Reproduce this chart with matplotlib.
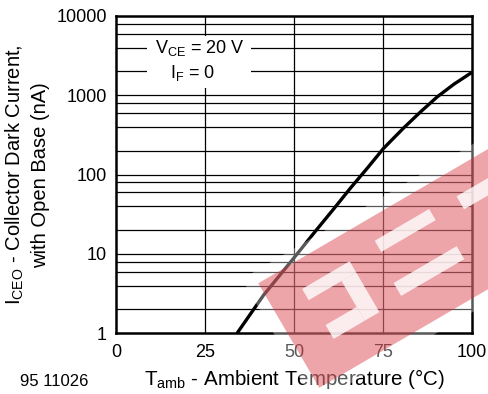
import numpy as np
import matplotlib
matplotlib.use("Agg")
import matplotlib.pyplot as plt
from matplotlib.patches import Polygon, Rectangle

plt.rcParams['font.family'] = ['Liberation Sans', 'DejaVu Sans']
plt.rcParams['mathtext.fontset'] = 'custom'
plt.rcParams['mathtext.rm'] = 'Liberation Sans'
plt.rcParams['mathtext.it'] = 'Liberation Sans:italic'
plt.rcParams['mathtext.bf'] = 'Liberation Sans:bold'

# ---- data ----
temperature = [33.9, 41.4, 49.8, 56.4, 61.1, 65.8, 70.5, 75.1, 80.8, 85.5, 90.2, 94.9, 100.0]
dark_current = [1.0, 3.04, 8.8, 20.5, 37.0, 67.6, 120, 214, 389, 617, 955, 1380, 1950]
x_ticks = [0, 25, 50, 75, 100]
y_ticks = [1, 10, 100, 1000, 10000]
y_tick_labels = ['1', '10', '100', '1000', '10000']
grid_multipliers = [2, 4, 6, 8]

W, H = 489, 394
fig = plt.figure(figsize=(W / 100, H / 100), dpi=100)
ax_l, ax_r, ax_t, ax_b = 116.5, 472.0, 16.0, 333.3
ax = fig.add_axes([ax_l / W, 1 - ax_b / H, (ax_r - ax_l) / W, (ax_b - ax_t) / H])
ax.set_yscale('log')
ax.set_xlim(0, 100)
ax.set_ylim(1, 10000)

# grid
for d in y_ticks[:-1]:
    for m in grid_multipliers:
        ax.axhline(d * m, color='black', lw=0.9, zorder=1)
    if d > 1:
        ax.axhline(d, color='black', lw=0.9, zorder=1)
for xv in x_ticks[1:-1]:
    ax.axvline(xv, color='black', lw=0.9, zorder=1)

# curve
ax.plot(temperature, dark_current, color='black', lw=2.4, zorder=4,
        solid_capstyle='butt', solid_joinstyle='round')

# conditions box
ax.add_patch(Rectangle(((147 - ax_l) / (ax_r - ax_l), 1 - (88 - ax_t) / (ax_b - ax_t)),
                       (251 - 147) / (ax_r - ax_l), (88 - 36) / (ax_b - ax_t),
                       transform=ax.transAxes, facecolor='white', edgecolor='none', zorder=2))
ax.text(23.5, 3960, r'V$_{\mathrm{CE}}$ = 20 V', ha='center', va='center', fontsize=13, zorder=3)
ax.text(21.3, 1918, r'I$_{\mathrm{F}}$ = 0', ha='center', va='center', fontsize=13, zorder=3)

# axes styling
ax.set_xticks(x_ticks)
ax.set_xticklabels([str(v) for v in x_ticks])
ax.set_yticks(y_ticks)
ax.set_yticklabels(y_tick_labels)
ax.yaxis.set_minor_locator(matplotlib.ticker.NullLocator())
ax.tick_params(axis='both', length=0, labelsize=13)
ax.tick_params(axis='y', pad=7)
ax.tick_params(axis='x', pad=8)
for s in ax.spines.values():
    s.set_linewidth(1.8)
    s.set_zorder(5)

ax.set_xlabel(r'T$_{\mathrm{amb}}$ - Ambient Temperature (°C)', fontsize=14.8, labelpad=4)
cy = 1 - (ax_t + ax_b) / 2 / H
fig.text(15 / W, cy, r'I$_{\mathrm{CEO}}$ - Collector Dark Current,', rotation=90,
         ha='center', va='center', fontsize=14.5)
fig.text(41 / W, cy, 'with Open Base (nA)', rotation=90, ha='center', va='center', fontsize=14.5)
fig.text(20 / W, 1 - 381 / H, '95 11026', ha='left', va='center', fontsize=12)

# ---- watermark (decorative overlay) ----
A = np.array([258.3, 283.3])
u_dir = np.array([np.cos(np.radians(30.3)), -np.sin(np.radians(30.3))])
v_dir = np.array([np.sin(np.radians(30.3)), np.cos(np.radians(30.3))])

def band_poly(u0, u1, v0, v1):
    pts = [A + u * u_dir + v * v_dir for u, v in [(u0, v0), (u1, v0), (u1, v1), (u0, v1)]]
    return [(p[0] / W, 1 - p[1] / H) for p in pts]

def add_shape(u0, u1, v0, v1, color, alpha):
    fig.add_artist(Polygon(band_poly(u0, u1, v0, v1), closed=True, transform=fig.transFigure,
                           facecolor=color, edgecolor='none', alpha=alpha, zorder=10))

add_shape(-12, 320, -12, 133, 'white', 0.35)
add_shape(0, 320, 0, 121, (0.84, 0.16, 0.2), 0.42)
white_a = 0.8
add_shape(35, 90, 27, 40, 'white', white_a)
add_shape(73, 90, 40, 86, 'white', white_a)
add_shape(37, 73, 70, 86, 'white', white_a)
add_shape(122, 185, 22, 35, 'white', white_a)
add_shape(117, 190, 68, 83, 'white', white_a)
add_shape(215, 300, 25, 40, 'white', white_a)

fig.savefig('out.png', dpi=100)
